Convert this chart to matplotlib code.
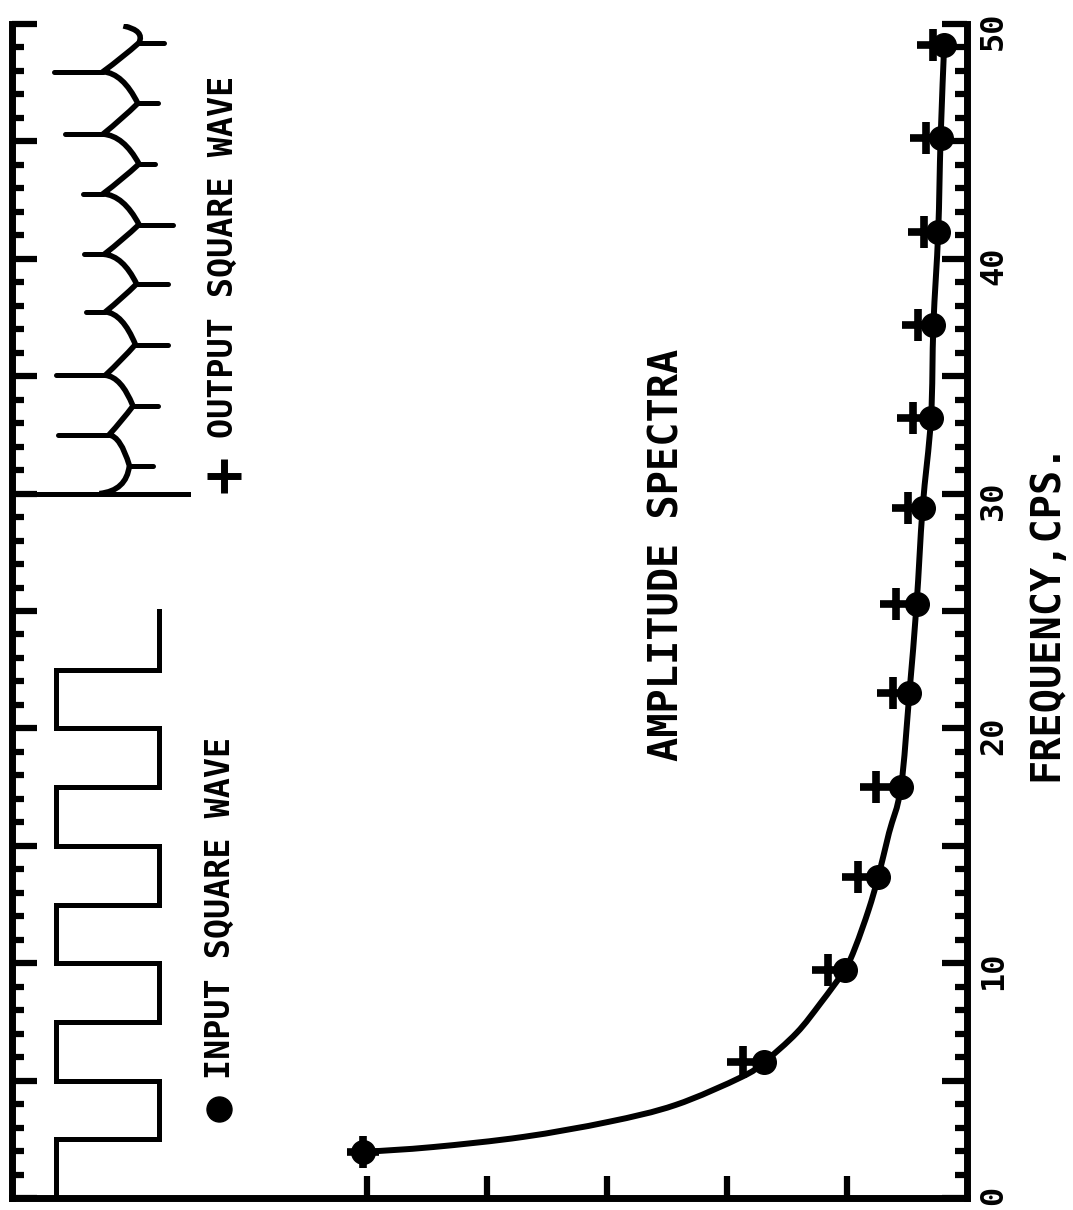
import matplotlib.pyplot as plt
from matplotlib.path import Path
from matplotlib.patches import PathPatch

# harmonics of the square wave, frequency in cps
freq = [1.96, 5.79, 9.71, 13.67, 17.5, 21.51, 25.3, 29.39, 33.22, 37.18, 41.14, 45.14, 49.11]
input_amp = [5.03, 1.69, 1.02, 0.74, 0.55, 0.48, 0.42, 0.37, 0.30, 0.28, 0.24, 0.22, 0.19]
output_amp = [5.03, 1.87, 1.16, 0.91, 0.76, 0.62, 0.59, 0.49, 0.45, 0.41, 0.36, 0.34, 0.28]

# smooth curve through the input spectrum
curve_freq = [1.96, 2.17, 2.60, 3.24, 3.96, 5.15, 5.79, 7.03, 8.30, 9.71,
              10.69, 12.27, 13.67, 15.55, 17.5, 21.51, 25.3, 29.39, 33.22, 37.18, 41.14, 45.14, 49.11]
curve_amp = [5.03, 4.45, 3.70, 2.99, 2.43, 1.88, 1.69, 1.42, 1.22, 1.02,
             0.93, 0.82, 0.74, 0.65, 0.55, 0.48, 0.42, 0.37, 0.30, 0.28, 0.24, 0.22, 0.19]

freq_major = [0, 5, 10, 15, 20, 25, 30, 35, 40, 45, 50]
freq_labels = ['0', '', '10', '', '20', '', '30', '', '40', '', '50']
freq_minor = list(range(0, 51))
amp_ticks = [1, 2, 3, 4, 5]

# input square wave sketch (time runs along the frequency axis)
in_wave_t = [0, 2.5, 5, 7.5, 10, 12.5, 15, 17.5, 20, 22.5, 25]
in_wave_lvl = [7.59, 6.73, 7.59, 6.73, 7.59, 6.73, 7.59, 6.73, 7.59, 6.73]

# output square wave sketch: cusp times, cusp levels and spike tips
out_start = (7.23, 30.0)
out_end = (7.03, 49.92)
out_right_t = [31.19, 33.73, 36.35, 38.93, 41.46, 44.04, 46.62, 49.2]
out_right_a = [6.98, 6.95, 6.93, 6.92, 6.90, 6.90, 6.91, 6.90]
out_right_tip = [6.78, 6.74, 6.66, 6.66, 6.62, 6.77, 6.74, 6.69]
out_left_t = [32.5, 35.04, 37.74, 40.19, 42.77, 45.31, 47.97]
out_left_a = [7.15, 7.18, 7.18, 7.19, 7.20, 7.20, 7.20]
out_left_tip = [7.575, 7.59, 7.34, 7.36, 7.37, 7.52, 7.61]

mono = 'DejaVu Sans Mono'

fig = plt.figure(figsize=(10.73, 12.10), dpi=100)
ax = fig.add_axes([12 / 1073, 12 / 1210, 955 / 1073, 1174 / 1210])
ax.set_xlim(955 / 120, 0)
ax.set_ylim(0, 50)

for s in ['left', 'right', 'bottom']:
    ax.spines[s].set_linewidth(5)
ax.spines['top'].set_visible(False)

ax.set_xticks(amp_ticks)
ax.tick_params(axis='x', direction='in', length=16, width=4.5, labelbottom=False)
ax.set_yticks(freq_major, freq_labels, fontsize=23, fontweight='bold', family=mono)
ax.set_yticks(freq_minor, minor=True)
ax.tick_params(axis='y', which='both', direction='in', left=True, right=True,
               labelleft=False, labelright=True, labelrotation=90, pad=8)
ax.tick_params(axis='y', which='major', length=18, width=4.5)
ax.tick_params(axis='y', which='minor', length=8.5, width=4.5)

# spectra: smooth line through the read points (Catmull-Rom as cubic Beziers)
pts = list(zip(curve_amp, curve_freq))
verts = [pts[0]]
codes = [Path.MOVETO]
n = len(pts)
for i in range(n - 1):
    p0 = pts[max(i - 1, 0)]
    p1 = pts[i]
    p2 = pts[i + 1]
    p3 = pts[min(i + 2, n - 1)]
    c1 = (p1[0] + (p2[0] - p0[0]) / 6, p1[1] + (p2[1] - p0[1]) / 6)
    c2 = (p2[0] - (p3[0] - p1[0]) / 6, p2[1] - (p3[1] - p1[1]) / 6)
    verts += [c1, c2, p2]
    codes += [Path.CURVE4] * 3
ax.add_patch(PathPatch(Path(verts, codes), facecolor='none', edgecolor='black',
                       lw=4.3, zorder=2))
ax.plot(output_amp, freq, '+', color='black', ms=23, mew=5.5, zorder=3)
ax.plot(input_amp, freq, 'o', color='black', ms=17, zorder=4)

# input square wave
wx, wy = [], []
for i, lvl in enumerate(in_wave_lvl):
    wx += [lvl, lvl]
    wy += [in_wave_t[i], in_wave_t[i + 1]]
ax.plot(wx, wy, color='black', lw=3.6, solid_joinstyle='miter')

# output square wave
ax.plot([955 / 120, 6.49], [30, 30], color='black', lw=3.6)
junctions = []
for i in range(len(out_right_t)):
    junctions.append(('R', out_right_a[i], out_right_t[i], out_right_tip[i]))
    if i < len(out_left_t):
        junctions.append(('L', out_left_a[i], out_left_t[i], out_left_tip[i]))

verts = [out_start]
codes = [Path.MOVETO]
px, py = out_start
for k, (side, ja, jt, tip) in enumerate(junctions):
    mx, my = (px + ja) / 2, (py + jt) / 2
    if k == 0:
        ctrl = (mx + 0.8 * (ja - mx), my + 0.8 * (py - my))
    elif side == 'R':
        # rising edge: nearly straight diagonal into the cusp
        ctrl = (mx + 0.1 * (ja - mx), my)
    else:
        # falling edge: leaves the cusp diagonally, meets the next one flat
        ctrl = (mx + 0.15 * (px - mx), my + 0.9 * (jt - my))
    verts += [ctrl, (ja, jt)]
    codes += [Path.CURVE3, Path.CURVE3]
    px, py = ja, jt
    ax.plot([ja, tip], [jt, jt], color='black', lw=3.6, solid_capstyle='round')
verts += [(px - 0.05, out_end[1] - 0.2), out_end]
codes += [Path.CURVE3, Path.CURVE3]
ax.add_patch(PathPatch(Path(verts, codes), facecolor='none', edgecolor='black', lw=4.0))

# labels
ax.plot([6.23], [3.80], 'o', color='black', ms=18)
ax.text(6.22, 5.07, 'INPUT SQUARE WAVE', rotation=90, ha='center', va='bottom',
        fontsize=24, fontweight='bold', family=mono)
ax.plot([6.19], [30.77], '+', color='black', ms=25, mew=5)
ax.text(6.20, 32.37, 'OUTPUT SQUARE WAVE', rotation=90, ha='center', va='bottom',
        fontsize=24, fontweight='bold', family=mono)
ax.text(2.5, 27.4, 'AMPLITUDE SPECTRA', rotation=90, ha='center', va='center',
        fontsize=29, fontweight='bold', family=mono)
ax.text(-0.66, 25.0, 'FREQUENCY,CPS.', rotation=90, ha='center', va='center',
        fontsize=29, fontweight='bold', family=mono, clip_on=False)

fig.savefig('out.png', dpi=100)
